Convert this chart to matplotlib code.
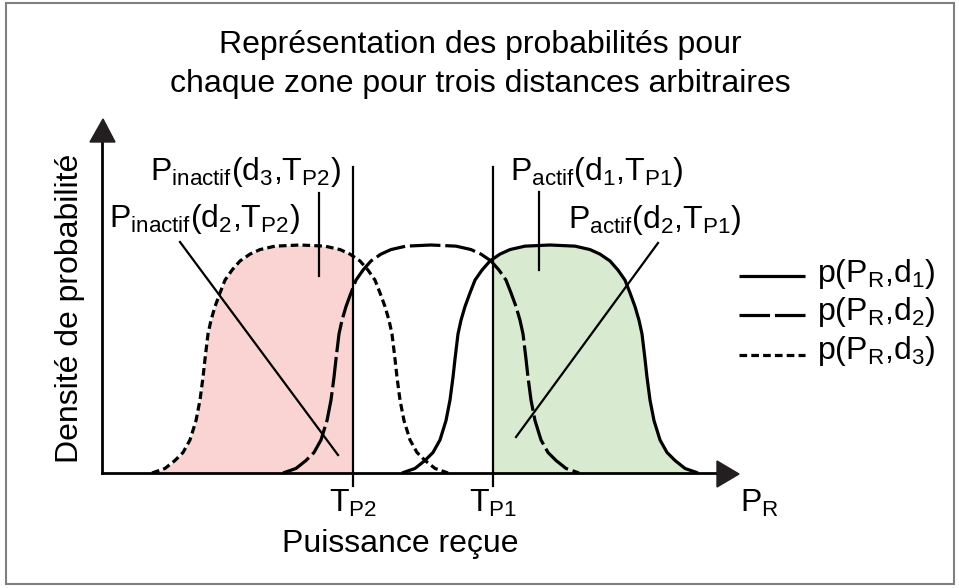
import numpy as np
import matplotlib
matplotlib.use("Agg")
import matplotlib.pyplot as plt
from matplotlib.patches import Rectangle, Polygon

plt.rcParams['font.family'] = ['Liberation Sans', 'DejaVu Sans']
plt.rcParams['mathtext.fontset'] = 'custom'
plt.rcParams['mathtext.rm'] = 'Liberation Sans'
plt.rcParams['mathtext.it'] = 'Liberation Sans'
plt.rcParams['lines.scale_dashes'] = False

# ---- data (x in arbitrary power units, y = normalised density) ----
profile_dx = [-148, -135, -125, -117, -110, -104, -100, -97, -95, -92, -89, -85, -80, -75,
              -68, -60, -50, -40, -25, 0, 25, 40, 50, 60, 68, 75, 80, 85, 89, 92, 95, 97,
              100, 104, 110, 117, 125, 135, 148]
profile_h = [0.0, 0.02, 0.055, 0.09, 0.145, 0.23, 0.32, 0.42, 0.5, 0.61, 0.67, 0.73, 0.79,
             0.846, 0.89, 0.93, 0.96, 0.98, 0.995, 1.0, 0.995, 0.98, 0.96, 0.93, 0.89, 0.846,
             0.79, 0.73, 0.67, 0.61, 0.5, 0.42, 0.32, 0.23, 0.145, 0.09, 0.055, 0.02, 0.0]
curve_names = ['d1', 'd2', 'd3']
curve_centers = [550, 431, 300]
TP1 = 493
TP2 = 353
legend_labels = [r'$\mathregular{p(P_R{,}d_1)}$', r'$\mathregular{p(P_R{,}d_2)}$',
                 r'$\mathregular{p(P_R{,}d_3)}$']

W, H = 959, 588
fig = plt.figure(figsize=(W / 100, H / 100), dpi=100)

# data axes: y=0 at pixel 473, y=1 at pixel 245
y0_px, y1_px = 473, 245
scale = (y0_px - y1_px) / H
b0 = (H - y0_px) / H
ax = fig.add_axes([0, 0, 1, 1])
ax.set_xlim(0, W)
ax.set_ylim(-b0 / scale, (1 - b0) / scale)
ax.axis('off')
ax.set_zorder(1)

# pixel overlay axes for annotations (drawn above the data axes)
px = fig.add_axes([0, 0, 1, 1])
px.set_xlim(0, W)
px.set_ylim(H, 0)
px.axis('off')
px.set_zorder(2)

lw = 2.3
styles = {'d1': dict(linestyle='-'),
          'd2': dict(dashes=(22, 3.5)),
          'd3': dict(dashes=(5.5, 3.0))}
pink = '#f9d4d3'
green = '#d8eacf'

curves = {}
for name, c in zip(curve_names, curve_centers):
    curves[name] = (c + np.array(profile_dx, dtype=float), np.array(profile_h))

# fills
x3, h3 = curves['d3']
f1 = ax.fill_between(x3, 0, h3, color=pink, lw=0, zorder=1)
f1.set_clip_path(Rectangle((0, -1), TP2, 3, transform=ax.transData))
x1, h1 = curves['d1']
f2 = ax.fill_between(x1, 0, h1, color=green, lw=0, zorder=1)
f2.set_clip_path(Rectangle((TP1, -1), 500, 3, transform=ax.transData))

for name in curve_names:
    x, h = curves[name]
    ax.plot(x, h, color='black', lw=lw, zorder=3, solid_capstyle='butt',
            dash_capstyle='butt', **styles[name])

# axes lines and arrows (pixel overlay)
px.plot([102, 718], [473, 473], color='black', lw=2.0, zorder=4)
px.plot([102, 102], [473, 141], color='black', lw=2.0, zorder=4)
px.add_patch(Polygon([[717, 461], [739, 474], [717, 487]], closed=True,
                     color='#231f20', zorder=5))
px.add_patch(Polygon([[90, 142], [103, 119], [115, 142]], closed=True,
                     color='#231f20', zorder=5))

# threshold lines
for t in (TP1, TP2):
    px.plot([t, t], [167, 486], color='black', lw=1.6, zorder=4)

# leader lines
px.plot([319, 319], [193, 276], color='black', lw=1.6, zorder=4)
px.plot([180, 338], [242, 455], color='black', lw=1.6, zorder=4)
px.plot([539, 539], [192, 270], color='black', lw=1.6, zorder=4)
px.plot([658, 516], [243, 437], color='black', lw=1.6, zorder=4)

fs = 23
# annotation labels
px.text(150, 180, r'$\mathregular{P_{inactif}(d_3{,}T_{P2})}$', fontsize=fs, va='baseline', ha='left')
px.text(109, 227, r'$\mathregular{P_{inactif}(d_2{,}T_{P2})}$', fontsize=fs, va='baseline', ha='left')
px.text(510, 180, r'$\mathregular{P_{actif}(d_1{,}T_{P1})}$', fontsize=fs, va='baseline', ha='left')
px.text(568, 228, r'$\mathregular{P_{actif}(d_2{,}T_{P1})}$', fontsize=fs, va='baseline', ha='left')

# title
px.text(480, 45, 'Représentation des probabilités pour', fontsize=fs, ha='center', va='center')
px.text(480, 84, 'chaque zone pour trois distances arbitraires', fontsize=fs, ha='center', va='center')

# axis labels
px.text(70, 308, 'Densité de probabilité', fontsize=fs, rotation=90, ha='center', va='center')
px.text(400, 552, 'Puissance reçue', fontsize=fs, ha='center', va='baseline')
px.text(TP2, 512, r'$\mathregular{T_{P2}}$', fontsize=fs, ha='center', va='baseline')
px.text(TP1, 512, r'$\mathregular{T_{P1}}$', fontsize=fs, ha='center', va='baseline')
px.text(740, 512, r'$\mathregular{P_R}$', fontsize=fs, ha='left', va='baseline')

# legend (manual)
leg_y = [276, 315, 355]
leg_base = [282, 320, 359]
for name, ly, lb, lab in zip(curve_names, leg_y, leg_base, legend_labels):
    px.plot([739, 805], [ly, ly], color='black', lw=lw, solid_capstyle='butt',
            dash_capstyle='butt', **styles[name])
    px.text(817, lb, lab, fontsize=fs, ha='left', va='baseline')

# frame
px.add_patch(Rectangle((6, 3), 948, 581, fill=False, edgecolor='#7f7f7f', lw=1.5, zorder=6))

fig.savefig('out.png', dpi=100)
